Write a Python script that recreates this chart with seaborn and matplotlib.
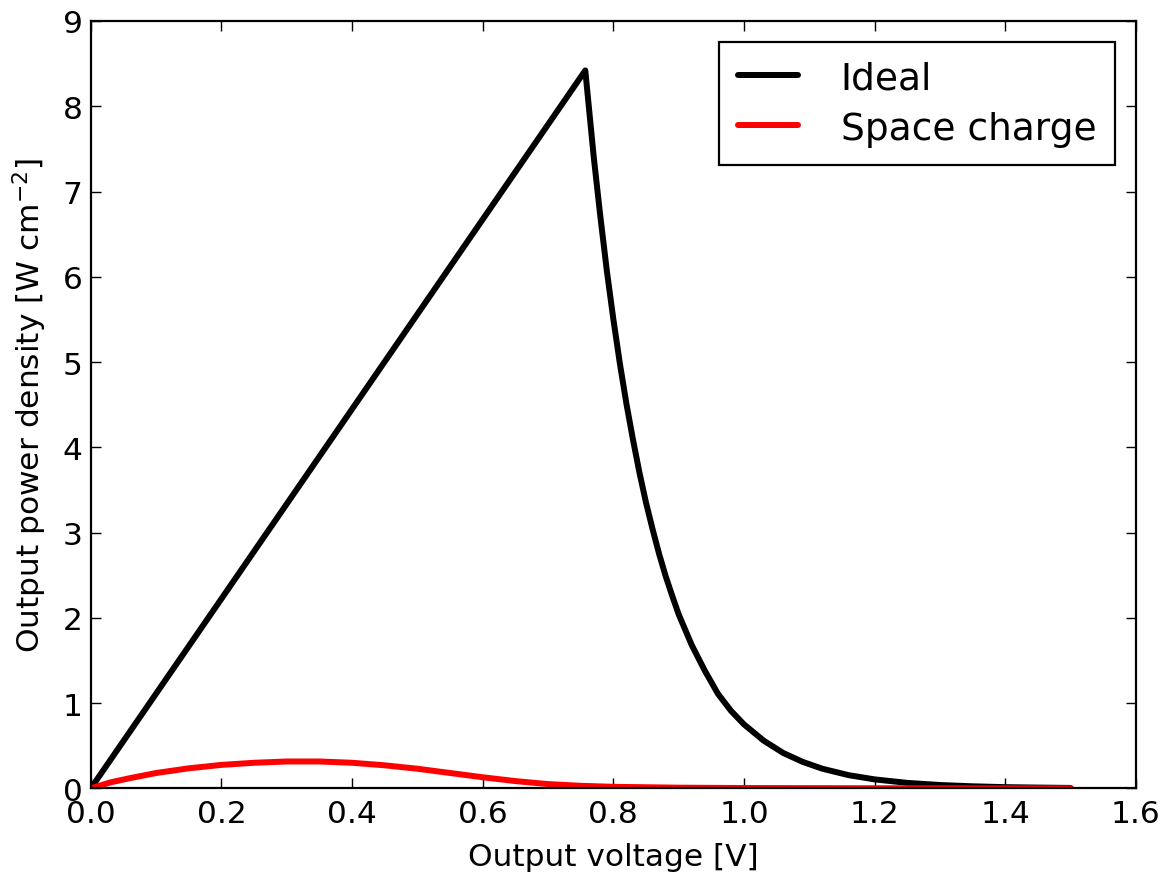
import numpy as np
import pandas as pd
import matplotlib
matplotlib.use("Agg")
import matplotlib.pyplot as plt
import seaborn as sns

# values
ideal_v = [0.0, 0.757, 0.770, 0.780, 0.790, 0.800, 0.810, 0.820, 0.830, 0.840,
           0.850, 0.860, 0.870, 0.880, 0.890, 0.900, 0.920, 0.940, 0.960, 0.980,
           1.000, 1.030, 1.060, 1.090, 1.120, 1.160, 1.200, 1.250, 1.300, 1.350,
           1.400, 1.450, 1.500]
ideal_p = [0.0, 8.42, 7.40, 6.71, 6.07, 5.50, 4.98, 4.51, 4.09, 3.70,
           3.35, 3.04, 2.75, 2.49, 2.26, 2.04, 1.68, 1.38, 1.11, 0.91,
           0.75, 0.56, 0.415, 0.31, 0.23, 0.155, 0.105, 0.064, 0.039, 0.024,
           0.014, 0.009, 0.005]

space_v = [0.0, 0.03, 0.06, 0.10, 0.15, 0.20, 0.25, 0.30, 0.35, 0.40,
           0.45, 0.50, 0.55, 0.60, 0.65, 0.70, 0.75, 0.80, 0.90, 1.00,
           1.20, 1.50]
space_p = [0.0, 0.07, 0.12, 0.18, 0.235, 0.275, 0.30, 0.315, 0.315, 0.30,
           0.27, 0.23, 0.18, 0.13, 0.085, 0.05, 0.03, 0.018, 0.008, 0.004,
           0.001, 0.0]

x_ticks = [0.0, 0.2, 0.4, 0.6, 0.8, 1.0, 1.2, 1.4, 1.6]
y_ticks = [0, 1, 2, 3, 4, 5, 6, 7, 8, 9]

sns.set_style("ticks")
plt.rcParams["font.family"] = ["DejaVu Sans"]
plt.rcParams.update({
    "font.size": 22,
    "axes.linewidth": 1.6,
    "axes.edgecolor": "black",
    "xtick.direction": "in",
    "ytick.direction": "in",
    "xtick.top": True,
    "ytick.right": True,
    "xtick.major.size": 7,
    "ytick.major.size": 7,
    "xtick.major.width": 1.0,
    "ytick.major.width": 1.0,
    "xtick.major.pad": 8,
    "ytick.major.pad": 6,
    "xtick.color": "black",
    "ytick.color": "black",
    "text.color": "black",
    "axes.labelcolor": "black",
})

df_ideal = pd.DataFrame({"v": ideal_v, "p": ideal_p})
df_space = pd.DataFrame({"v": space_v, "p": space_p})

fig = plt.figure(figsize=(11.65, 8.79), dpi=100)
ax = fig.add_axes([0.078, 0.102, 0.897, 0.873])

sns.lineplot(data=df_ideal, x="v", y="p", ax=ax, color="black", linewidth=4.3,
             label="Ideal", estimator=None, sort=False)
sns.lineplot(data=df_space, x="v", y="p", ax=ax, color="red", linewidth=4.3,
             label="Space charge", estimator=None, sort=False)

ax.set_xlim(0, 1.6)
ax.set_ylim(0, 9)
ax.set_xticks(x_ticks)
ax.set_yticks(y_ticks)
ax.set_xticklabels([f"{t:.1f}" for t in x_ticks], fontsize=22.5)
ax.set_yticklabels([str(t) for t in y_ticks], fontsize=22.5)
ax.set_xlabel("Output voltage [V]", fontsize=22.5, labelpad=10)
ax.set_ylabel(r"Output power density [W cm$^{-2}$]", fontsize=22.5, labelpad=10)
for s in ax.spines.values():
    s.set_visible(True)

leg = ax.legend(loc="upper right", fontsize=27, frameon=True, fancybox=False,
                edgecolor="black", framealpha=1, handlelength=1.6,
                handletextpad=1.15, borderpad=0.5, labelspacing=0.38,
                borderaxespad=0.55)
leg.get_frame().set_linewidth(1.6)

fig.savefig("out.png", dpi=100)
